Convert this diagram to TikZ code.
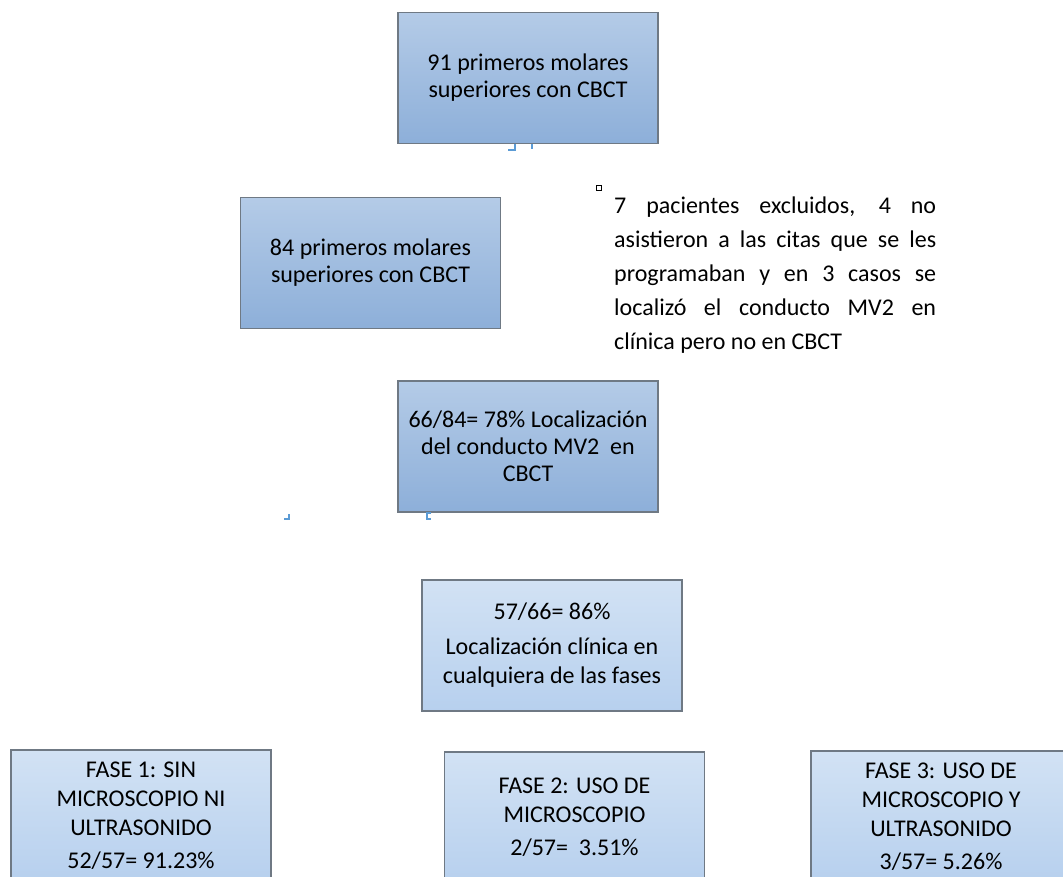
\documentclass[tikz,border=0pt]{standalone}
\usepackage{fontspec}
\setmainfont{Carlito}
\usepackage{xcolor}
\usepackage{tikz}
\definecolor{boxtop}{HTML}{B4CBE7}
\definecolor{boxbot}{HTML}{8DAFD9}
\definecolor{lighttop}{HTML}{D2E2F4}
\definecolor{lightbot}{HTML}{B7D0EE}
\definecolor{boxedge}{HTML}{6F7984}
\definecolor{markblue}{HTML}{5B9BD5}

\begin{document}
\begin{tikzpicture}[x=1pt,y=-1pt]
            \tikzstyle{every node}=[inner sep=0pt,align=center,text=black];
            \tikzstyle{box}=[draw=boxedge,line width=1.5pt,minimum width=260pt,minimum height=131pt,font=\fontsize{24}{27}\selectfont];
            \tikzstyle{darkbox}=[box,top color=boxtop,bottom color=boxbot];
            \tikzstyle{lightbox}=[box,top color=lighttop,bottom color=lightbot,font=\fontsize{24}{29}\selectfont];
            \useasboundingbox[fill=white] (0,0) rectangle (1063,877);
            \node[darkbox] (total) at (528,78) {91 primeros molares\\superiores con CBCT};
            \node[darkbox] (incl) at (370.5,263) {84 primeros molares\\superiores con CBCT};
            \node[darkbox] (cbct) at (528,446.5) {66/84= 78\% Localización\\del conducto MV2\ \ en\\CBCT};
            \node[lightbox] (clin) at (552,645.5) {57/66= 86\%\\[6pt]Localización clínica en\\cualquiera de las fases};
            \node[lightbox] (f1) at (141,815.5) {FASE 1: SIN\\MICROSCOPIO NI\\ULTRASONIDO\\[4pt]52/57= 91.23\%};
            \node[lightbox] (f2) at (574.5,817.5) {FASE 2: USO DE\\MICROSCOPIO\\[4pt]2/57=\ \ 3.51\%};
            \node[lightbox] (f3) at (941,816.5) {FASE 3: USO DE\\MICROSCOPIO Y\\ULTRASONIDO\\[4pt]3/57= 5.26\%};
            \node[anchor=base west,text width=322pt,align=justify,font=\fontsize{24}{34}\selectfont] (excl) at (614,214)
                {7 pacientes excluidos, 4 no\linebreak
                 asistieron a las citas que se les\linebreak
                 programaban y en 3 casos se\linebreak
                 localizó el conducto MV2 en\linebreak
                 clínica pero no en CBCT};
            \path[draw] [black,line width=0.8pt] (596,185) rectangle (601,190);
            \path[draw] [markblue,line width=1.5pt] (508,150) -- (515,150) -- (515,144);
            \path[draw] [markblue,line width=1.5pt] (532,144) -- (532,149);
            \path[draw] [markblue,line width=1.2pt] (284,519) -- (289,519) -- (289,514);
            \path[draw] [markblue,line width=1.2pt] (431,513) -- (427,513) -- (427,519) -- (431,519);
        \end{tikzpicture}
\end{document}
